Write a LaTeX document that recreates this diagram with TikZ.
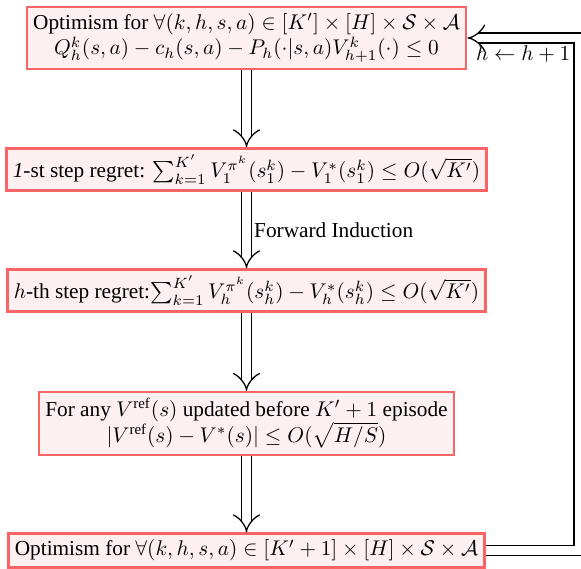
\documentclass[tikz,border=0pt]{standalone}
\usepackage{amssymb,amsmath}
\usepackage{fontspec}
\setmainfont{Liberation Serif}
\usepackage{tikz}
\usetikzlibrary{calc}
\usetikzlibrary{matrix,arrows}
\usetikzlibrary{positioning}
\usetikzlibrary{arrows.meta}
\definecolor{boxred}{RGB}{250,100,100}
\definecolor{boxfill}{RGB}{253,240,240}

\begin{document}
\begin{tikzpicture}[x=0.47pt,y=-0.47pt,
	stepbox/.style={draw=boxred, fill=boxfill, line width=1.1pt, align=center, inner sep=3pt},
	implyarrow/.style={double, double distance=4pt, semithick, -implies}]
		
		\useasboundingbox (0,0) rectangle (581,569);
		
		\node[stepbox] (opt1) at (246.5,38) {Optimism for $\forall (k,h,s,a)\in[K']\times[H]\times\mathcal{S}\times\mathcal{A}$\\
			$Q_h^k(s,a)-c_h(s,a)-P_h(\cdot|s,a)V_{h+1}^k(\cdot)\le 0$};
		\node[stepbox] (reg1) at (246.5,169.5) {\textit{1}-st step regret: $\sum_{k=1}^{K'} V_1^{\pi^k}(s_1^k)-V_1^*(s_1^k)\le O(\sqrt{K'})$};
		\node[stepbox] (regh) at (246.5,290.5) {$h$-th step regret:$\sum_{k=1}^{K'} V_h^{\pi^k}(s_h^k)-V_h^*(s_h^k)\le O(\sqrt{K'})$};
		\node[stepbox] (vref) at (246.5,423.5) {For any $V^{\mathrm{ref}}(s)$ updated before $K'+1$ episode\\
			$|V^{\mathrm{ref}}(s)-V^*(s)|\le O(\sqrt{H/S})$};
		\node[stepbox] (opt2) at (246.5,550.5) {Optimism for $\forall (k,h,s,a)\in[K'+1]\times[H]\times\mathcal{S}\times\mathcal{A}$};
		
		\coordinate (loop) at (579,550.5);
		
		
		\draw[implyarrow] (opt1) -- (reg1);
		\draw[implyarrow] (reg1) -- node[right] {Forward Induction} (regh);
		\draw[implyarrow] (regh) -- (vref);
		\draw[implyarrow] (vref) -- (opt2);
		
		\draw[implyarrow] (opt2.east) -- (loop) |- (opt1.east) node[pos=0.75, below] {$h\gets h+1$};
	\end{tikzpicture}
\end{document}
